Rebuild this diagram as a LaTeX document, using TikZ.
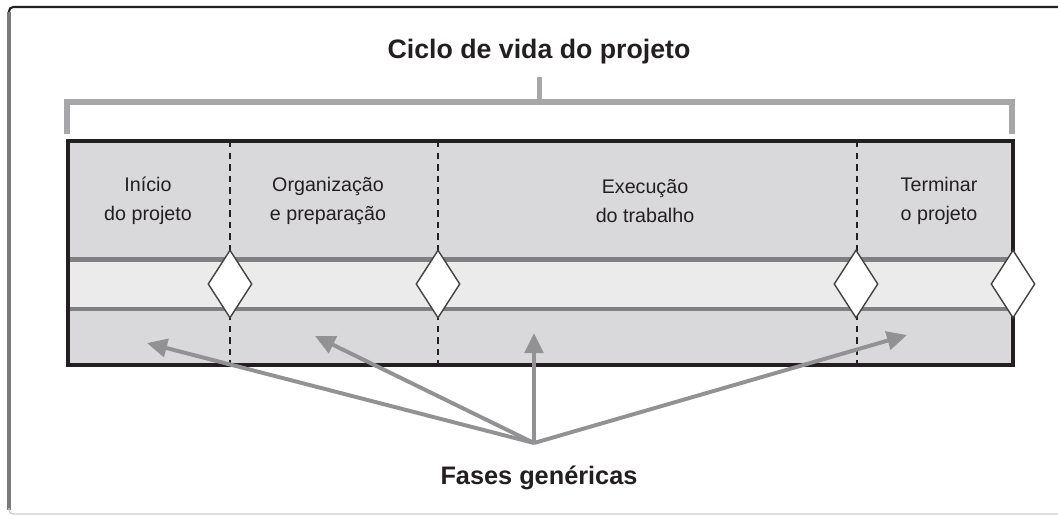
\documentclass[tikz,border=0pt]{standalone}
\usepackage{fontspec}
\setmainfont{Liberation Sans}
\usetikzlibrary{arrows.meta,shapes.geometric}
\definecolor{inkc}{HTML}{231F20}
\definecolor{brackc}{HTML}{A7A7AA}
\definecolor{phasebg}{HTML}{D9D9DB}
\definecolor{bandbg}{HTML}{EBEBEC}
\definecolor{bandln}{HTML}{808083}
\definecolor{arrc}{HTML}{929295}
\definecolor{framec}{HTML}{7A7A7A}
\tikzset{
  ttl/.style={font=\bfseries\fontsize{19}{22}\selectfont,text=inkc,anchor=base,inner sep=0pt},
  lbl/.style={font=\fontsize{14}{20.6}\selectfont,text=inkc,align=center,inner sep=0pt},
  ms/.style={diamond,draw=inkc!85,line width=1pt,fill=white,minimum width=1.1cm,minimum height=1.7cm,inner sep=0pt},
  ar/.style={-{Triangle[length=5mm,width=4.6mm]},line width=2.8pt,arrc},
  brk/.style={brackc,line width=3.6pt},
  divl/.style={inkc,line width=1.4pt,dash pattern=on 4.6pt off 3.6pt}
}
\begin{document}
\begin{tikzpicture}[x=0.025cm,y=-0.025cm]
\useasboundingbox (0,0) rectangle (1058,515);
% outer frame
\draw[inkc,line width=1.5pt,rounded corners=3pt] (1065,7) -- (9,7) -- (9,14);
\draw[framec,line width=2.2pt] (9,12) -- (9,510);
\draw[black!20,line width=1pt,rounded corners=3pt] (9,508) -- (9,514) -- (1065,514);
% title and bracket
\node[ttl] (title) at (539,58) {Ciclo de vida do projeto};
\coordinate (brk) at (539.5,102);
\draw[brk] (67,134) |- (1012,102) -- (1012,134);
\draw[brk] (brk) -- (539.5,77);
% phases box
\fill[phasebg] (68,141) rectangle (1013,365);
\fill[bandbg] (68,259) rectangle (1013,309);
\draw[bandln,line width=3pt] (68,259.5) -- (1013,259.5) (68,309) -- (1013,309);
\foreach \x in {230,438,857} \draw[divl] (\x,141) -- (\x,365);
\draw[inkc,line width=2.2pt] (68,141) rectangle (1013,365);
\foreach \x [count=\i] in {230,438,856,1013} \node[ms] (ms\i) at (\x,284) {};
\node[lbl] (ph1) at (148,201) {Início\\do projeto};
\node[lbl] (ph2) at (328,201) {Organização\\e preparação};
\node[lbl] (ph3) at (645,201) {Execução\\do trabalho};
\node[lbl] (ph4) at (939,201) {Terminar\\o projeto};
% generic phases
\node[ttl,font=\bfseries\fontsize{18}{22}\selectfont] (fases) at (539,484) {Fases genéricas};
\coordinate (hub) at (534,443);
\coordinate (tp1) at (147,343);
\coordinate (tp2) at (315,336);
\coordinate (tp3) at (534,333);
\coordinate (tp4) at (907,335);
\foreach \i in {1,...,4} \draw[ar] (hub) -- (tp\i);
\end{tikzpicture}
\end{document}
